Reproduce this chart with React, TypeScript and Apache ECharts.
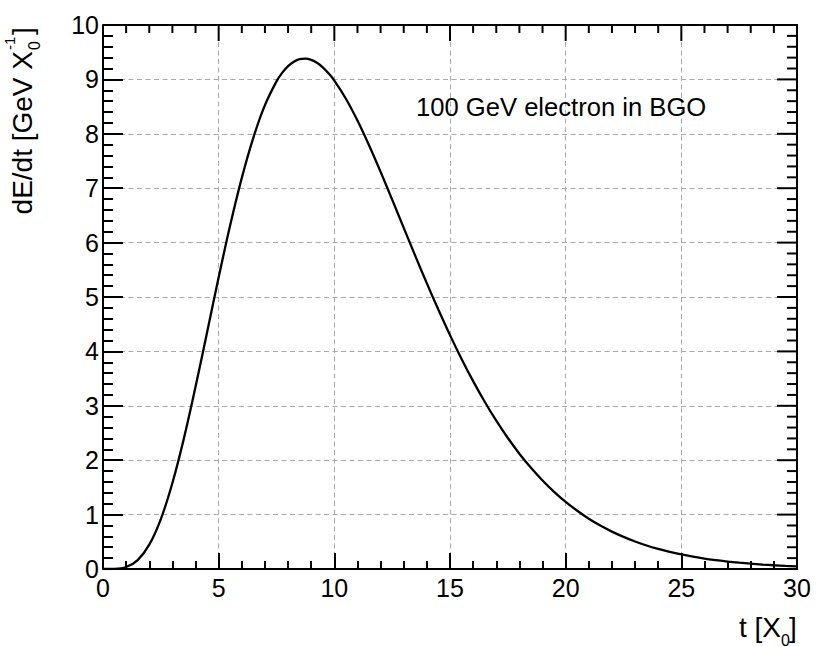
import React, { useEffect, useRef } from "react";
import * as echarts from "echarts";

// Shower depth t in radiation lengths
const T = [
  0, 0.5, 1, 1.5, 2, 2.5, 3, 3.5, 4, 4.5, 5, 5.5, 6, 6.5, 7, 7.5, 7.75, 8, 8.25,
  8.5, 8.75, 9, 9.25, 9.5, 9.75, 10, 10.5, 11, 11.5, 12, 12.5, 13, 13.5, 14, 14.5,
  15, 15.5, 16, 16.5, 17, 17.5, 18, 18.5, 19, 19.5, 20, 20.5, 21, 21.5, 22, 22.5,
  23, 23.5, 24, 24.5, 25, 25.5, 26, 26.5, 27, 27.5, 28, 28.5, 29, 29.5, 30,
];
// dE/dt in GeV per X0
const DEDT = [
  0, 0.0023, 0.036, 0.164, 0.447, 0.918, 1.58, 2.406, 3.349, 4.354, 5.363, 6.323,
  7.189, 7.93, 8.526, 8.964, 9.124, 9.245, 9.326, 9.372, 9.383, 9.359, 9.305,
  9.221, 9.111, 8.978, 8.645, 8.243, 7.789, 7.3, 6.79, 6.271, 5.755, 5.25, 4.764,
  4.299, 3.862, 3.453, 3.074, 2.726, 2.408, 2.12, 1.86, 1.627, 1.419, 1.233, 1.07,
  0.925, 0.798, 0.687, 0.59, 0.506, 0.432, 0.369, 0.314, 0.267, 0.227, 0.192,
  0.163, 0.137, 0.116, 0.098, 0.082, 0.069, 0.058, 0.049,
];

const X_RANGE = [0, 30];
const X_STEP = 5;
const Y_RANGE = [0, 10];
const Y_STEP = 1;

// tick marks mirrored on the top and right frame edges
const X_MAJOR = [0, 5, 10, 15, 20, 25, 30];
const X_MINOR = [
  1, 2, 3, 4, 6, 7, 8, 9, 11, 12, 13, 14, 16, 17, 18, 19, 21, 22, 23, 24, 26, 27, 28, 29,
];
const Y_MAJOR = [0, 1, 2, 3, 4, 5, 6, 7, 8, 9, 10];
const Y_MINOR = [
  0.2, 0.4, 0.6, 0.8, 1.2, 1.4, 1.6, 1.8, 2.2, 2.4, 2.6, 2.8, 3.2, 3.4, 3.6, 3.8,
  4.2, 4.4, 4.6, 4.8, 5.2, 5.4, 5.6, 5.8, 6.2, 6.4, 6.6, 6.8, 7.2, 7.4, 7.6, 7.8,
  8.2, 8.4, 8.6, 8.8, 9.2, 9.4, 9.6, 9.8,
];

const ANNOTATION = "100 GeV electron in BGO";
const X_TITLE_MAIN = "t [X";
const X_TITLE_SUB = "0";
const Y_TITLE_MAIN = "dE/dt [GeV X";
const Y_TITLE_SUB = "0";
const Y_TITLE_SUP = "-1";

const FONT = "Arial";
const TICK = "#000";

export default function App() {
  const ref = useRef<HTMLDivElement>(null);

  useEffect(() => {
    if (!ref.current) return;
    const chart = echarts.init(ref.current, undefined, { renderer: "svg" });

    const data = T.map((t, i) => [t, DEDT[i]]);

    chart.setOption({
      animation: false,
      backgroundColor: "#fff",
      grid: { left: 103, top: 25, right: 33, bottom: 78 },
      xAxis: {
        type: "value",
        min: X_RANGE[0],
        max: X_RANGE[1],
        interval: X_STEP,
        axisLine: { show: true, onZero: false, lineStyle: { color: "#000", width: 2 } },
        axisTick: { show: true, inside: true, length: 16, lineStyle: { color: TICK, width: 2 } },
        minorTick: { show: true, splitNumber: 5, length: 8, lineStyle: { color: TICK, width: 2 } },
        axisLabel: { margin: 6, color: "#000", fontSize: 25, fontFamily: FONT },
        splitLine: { show: true, lineStyle: { color: "#aaaaaa", width: 1, type: [5, 3.5] } },
      },
      yAxis: {
        type: "value",
        min: Y_RANGE[0],
        max: Y_RANGE[1],
        interval: Y_STEP,
        axisLine: { show: true, onZero: false, lineStyle: { color: "#000", width: 2 } },
        axisTick: { show: true, inside: true, length: 20, lineStyle: { color: TICK, width: 2 } },
        minorTick: { show: true, splitNumber: 5, length: 10, lineStyle: { color: TICK, width: 2 } },
        axisLabel: { margin: 4, color: "#000", fontSize: 25, fontFamily: FONT },
        splitLine: { show: true, lineStyle: { color: "#aaaaaa", width: 1, type: [5, 3.5] } },
      },
      series: [
        {
          type: "line",
          data,
          showSymbol: false,
          smooth: 0.35,
          lineStyle: { color: "#000", width: 2.3 },
        },
      ],
    });

    // top and right frame: ticks positioned through the axes' scales
    const finder = { xAxisIndex: 0, yAxisIndex: 0 };
    const ticks: any[] = [];
    const bar = (x: number, y: number, w: number, h: number) => ({
      type: "rect",
      shape: { x, y, width: w, height: h },
      style: { fill: TICK },
    });
    const addX = (v: number, len: number) => {
      const t = chart.convertToPixel(finder, [v, Y_RANGE[1]]) as number[];
      ticks.push(bar(t[0] - 1, t[1], 2, len));
    };
    const addY = (v: number, len: number) => {
      const r = chart.convertToPixel(finder, [X_RANGE[1], v]) as number[];
      ticks.push(bar(r[0] - len, r[1] - 1, len, 2));
    };
    const tr = chart.convertToPixel(finder, [X_RANGE[1], Y_RANGE[1]]) as number[];
    const bl = chart.convertToPixel(finder, [X_RANGE[0], Y_RANGE[0]]) as number[];
    // top and right frame lines
    ticks.push(bar(bl[0], tr[1] - 1, tr[0] - bl[0] + 1, 2));
    ticks.push(bar(tr[0] - 1, tr[1] - 1, 2, bl[1] - tr[1] + 2));
    X_MAJOR.forEach((v) => addX(v, 16));
    X_MINOR.forEach((v) => addX(v, 8));
    Y_MAJOR.forEach((v) => addY(v, 20));
    Y_MINOR.forEach((v) => addY(v, 10));

    chart.setOption({
      graphic: [
        {
          type: "text",
          x: 416,
          y: 107,
          style: {
            text: ANNOTATION,
            fill: "#000",
            fontSize: 25.6,
            fontFamily: FONT,
            verticalAlign: "middle",
          },
        },
        // x-axis title
        {
          type: "group",
          x: 797,
          y: 627,
          children: [
            {
              type: "text",
              x: -8,
              y: 0,
              style: { text: "]", fill: "#000", fontSize: 28, fontFamily: FONT, align: "left", verticalAlign: "middle" },
            },
            {
              type: "text",
              x: -16,
              y: 13,
              style: { text: X_TITLE_SUB, fill: "#000", fontSize: 16, fontFamily: FONT, align: "left", verticalAlign: "middle" },
            },
            {
              type: "text",
              x: -16,
              y: 0,
              style: { text: X_TITLE_MAIN, fill: "#000", fontSize: 28, fontFamily: FONT, align: "right", verticalAlign: "middle" },
            },
          ],
        },
        // y-axis title (rotated)
        {
          type: "group",
          x: 22,
          y: 26,
          rotation: Math.PI / 2,
          children: [
            {
              type: "text",
              x: -9,
              y: 0,
              style: { text: "]", fill: "#000", fontSize: 28, fontFamily: FONT, align: "left", verticalAlign: "middle" },
            },
            {
              type: "text",
              x: -24,
              y: -13,
              style: { text: Y_TITLE_SUP, fill: "#000", fontSize: 15, fontFamily: FONT, align: "left", verticalAlign: "middle" },
            },
            {
              type: "text",
              x: -24,
              y: 12,
              style: { text: Y_TITLE_SUB, fill: "#000", fontSize: 16, fontFamily: FONT, align: "left", verticalAlign: "middle" },
            },
            {
              type: "text",
              x: -25,
              y: 0,
              style: { text: Y_TITLE_MAIN, fill: "#000", fontSize: 28, fontFamily: FONT, align: "right", verticalAlign: "middle" },
            },
          ],
        },
        ...ticks,
      ],
    });

    return () => chart.dispose();
  }, []);

  return <div ref={ref} style={{ position: "fixed", left: 0, top: 0, width: 830, height: 647 }} />;
}
